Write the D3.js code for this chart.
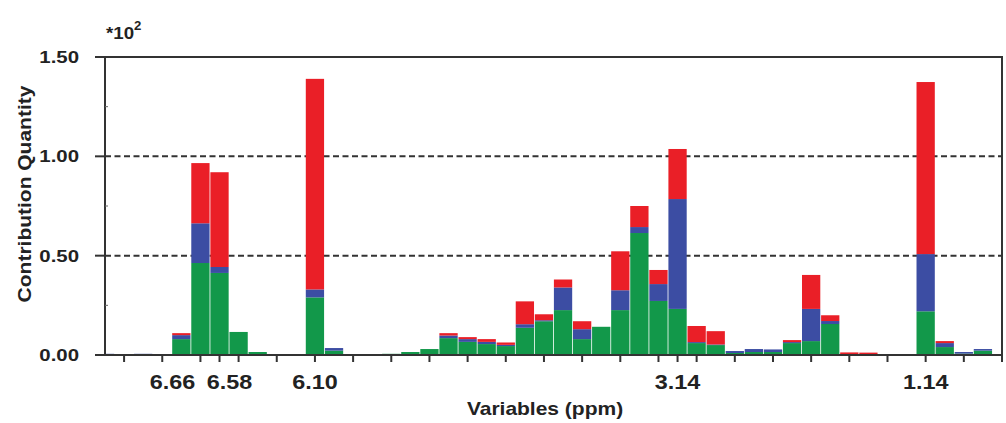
<!DOCTYPE html>
<html>
<head>
<meta charset="utf-8">
<script src="https://cdnjs.cloudflare.com/ajax/libs/d3/7.8.5/d3.min.js"></script>
<style>
  body { margin: 0; background: #fff; }
  svg text { font-family: "Liberation Sans", Arial, sans-serif; fill: #222; }
</style>
</head>
<body>
<div id="chart"></div>
<script>

// Contribution per variable bin (values are *10^2), three stacked components
var green = [0.004, 0, 0.004, 0, 0.08, 0.463, 0.413, 0.116, 0.015, 0.003, 0, 0.29,
  0.022, 0.002, 0.002, 0.006, 0.015, 0.03, 0.085, 0.066, 0.055, 0.045, 0.137, 0.17,
  0.226, 0.08, 0.142, 0.226, 0.614, 0.272, 0.232, 0.06, 0.05, 0.01, 0.015, 0.015,
  0.06, 0.07, 0.156, 0.003, 0.002, 0, 0.002, 0.22, 0.04, 0.007, 0.022, 0];
var blue = [0.002, 0, 0.002, 0, 0.02, 0.2, 0.03, 0, 0, 0, 0, 0.04,
  0.013, 0, 0, 0, 0, 0, 0.013, 0.014, 0.011, 0.006, 0.018, 0.005,
  0.114, 0.05, 0, 0.1, 0.03, 0.085, 0.553, 0.005, 0.003, 0.01, 0.015, 0.013,
  0.005, 0.162, 0.015, 0, 0, 0, 0, 0.288, 0.02, 0.008, 0.008, 0];
var red = [0, 0, 0, 0, 0.01, 0.303, 0.477, 0, 0, 0, 0, 1.06,
  0, 0, 0, 0, 0, 0, 0.012, 0.01, 0.014, 0.012, 0.115, 0.03,
  0.04, 0.04, 0, 0.196, 0.106, 0.071, 0.252, 0.081, 0.067, 0, 0, 0,
  0.01, 0.171, 0.029, 0.01, 0.01, 0, 0, 0.866, 0.01, 0, 0, 0];

// labelled bins (index -> ppm label) and small nudges so the labels don't collide
var labelIndex = [5, 6, 11, 30, 43];
var labelText = ["6.66", "6.58", "6.10", "3.14", "1.14"];
var labelShift = [-28, 10, 0, 0, 0];

var yTicks = [0, 0.5, 1.0, 1.5];
var yMinor = [0.25, 0.75, 1.25];
var gridLines = [0.5, 1.0];

var colors = { green: "#12984a", blue: "#3c4da3", red: "#ea1f27" };

var width = 1006, height = 423;
var plotLeft = 105, plotRight = 1002, plotTop = 57, plotBottom = 355;
var stretch = 1.2;   // the original font is wider than Arial

var svg = d3.select("#chart")
  .append("svg")
  .attr("width", width)
  .attr("height", height);

var n = green.length;
var x = d3.scaleLinear().domain([0, n - 1]).range([plotLeft, plotRight]);
var step = x(1) - x(0);
var y = d3.scaleLinear().domain([0, 1.5]).range([plotBottom, plotTop]);

// build the table for d3.stack
var table = green.map(function(g, i) {
  return { i: i, green: g, blue: blue[i], red: red[i] };
});
var series = d3.stack().keys(["green", "blue", "red"])(table);

svg.append("clipPath").attr("id", "plot")
  .append("rect")
  .attr("x", plotLeft).attr("y", plotTop)
  .attr("width", plotRight - plotLeft).attr("height", plotBottom - plotTop);

// dashed grid lines
svg.selectAll("line.grid")
  .data(gridLines)
  .enter()
  .append("line")
  .attr("class", "grid")
  .attr("x1", plotLeft).attr("x2", plotRight)
  .attr("y1", function(d) { return y(d); })
  .attr("y2", function(d) { return y(d); })
  .attr("stroke", "#333")
  .attr("stroke-width", 2)
  .attr("stroke-dasharray", "6,3.5");

// stacked bars
var bars = svg.append("g").attr("clip-path", "url(#plot)");
bars.selectAll("g")
  .data(series)
  .enter()
  .append("g")
  .attr("fill", function(d) { return colors[d.key]; })
  .selectAll("rect")
  .data(function(d) { return d; })
  .enter()
  .append("rect")
  .attr("x", function(d) { return x(d.data.i) - step / 2 + 0.4; })
  .attr("width", step - 0.8)
  .attr("y", function(d) { return y(d[1]); })
  .attr("height", function(d) { return y(d[0]) - y(d[1]); });

// frame
svg.append("rect")
  .attr("x", plotLeft).attr("y", plotTop)
  .attr("width", plotRight - plotLeft).attr("height", plotBottom - plotTop)
  .attr("fill", "none")
  .attr("stroke", "#333")
  .attr("stroke-width", 2);

// y axis ticks and labels
svg.selectAll("line.ytick")
  .data(yTicks)
  .enter()
  .append("line")
  .attr("class", "ytick")
  .attr("x1", plotLeft - 10).attr("x2", plotLeft)
  .attr("y1", function(d) { return y(d); })
  .attr("y2", function(d) { return y(d); })
  .attr("stroke", "#333")
  .attr("stroke-width", 2);

svg.selectAll("line.yminor")
  .data(yMinor)
  .enter()
  .append("line")
  .attr("class", "yminor")
  .attr("x1", plotLeft).attr("x2", plotLeft + 3)
  .attr("y1", function(d) { return y(d); })
  .attr("y2", function(d) { return y(d); })
  .attr("stroke", "#666")
  .attr("stroke-width", 1);

function addText(tx, ty, str, size, anchor, rotate, weight) {
  return svg.append("text")
    .attr("transform", "translate(" + tx + "," + ty + ")" + (rotate ? " rotate(" + rotate + ")" : "") + " scale(" + stretch + ",1)")
    .attr("text-anchor", anchor)
    .attr("font-size", size)
    .attr("font-weight", weight || "bold")
    .text(str);
}

yTicks.forEach(function(d) {
  addText(79, y(d) + 6, d3.format(".2f")(d), 17, "end");
});

// x axis ticks: every other bin plus the labelled ones
var xTickIdx = d3.range(1, n, 2);
labelIndex.forEach(function(k) { if (xTickIdx.indexOf(k) < 0) xTickIdx.push(k); });

svg.selectAll("line.xtick")
  .data(xTickIdx)
  .enter()
  .append("line")
  .attr("class", "xtick")
  .attr("x1", function(d) { return x(d); })
  .attr("x2", function(d) { return x(d); })
  .attr("y1", plotBottom).attr("y2", plotBottom + 7)
  .attr("stroke", "#333")
  .attr("stroke-width", 2);

labelIndex.forEach(function(k, j) {
  addText(x(k) + labelShift[j], 389, labelText[j], 19.5, "middle");
});

// axis titles
addText(545, 415, "Variables (ppm)", 17.5, "middle");
addText(31, 194, "Contribution Quantity", 17.5, "middle", -90);

// exponent marker
var exp = svg.append("text")
  .attr("transform", "translate(106,39) scale(1.1,1)")
  .attr("font-size", 17)
  .attr("font-weight", "bold");
exp.append("tspan").text("*10");
exp.append("tspan").attr("dy", -9).attr("font-size", 12).text("2");

</script>
</body>
</html>
